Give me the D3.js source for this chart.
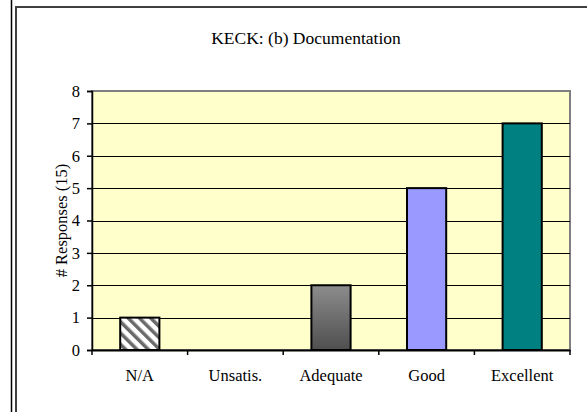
<!DOCTYPE html>
<html>
<head>
<meta charset="utf-8">
<script src="https://cdn.jsdelivr.net/npm/d3@7"></script>
<style>
  html, body { margin: 0; padding: 0; background: #fff; }
  svg { display: block; }
  svg text { font-family: "Liberation Serif", "Times New Roman", Times, serif !important; fill: #000; }
</style>
</head>
<body>
<svg id="chart" width="587" height="412"></svg>
<script>
const title = "KECK: (b) Documentation";
const yLabel = "# Responses (15)";
const categories = ["N/A", "Unsatis.", "Adequate", "Good", "Excellent"];
const values = [1, 0, 2, 5, 7];
const fills = ["url(#hatch)", "#cccccc", "url(#gradGray)", "#9999ff", "#008080"];
const yTicks = [0, 1, 2, 3, 4, 5, 6, 7, 8];

const svg = d3.select("#chart");
const W = 587, H = 412;
const plot = { left: 92, top: 91, right: 570, bottom: 350 };
const FONT = '"Liberation Serif", "Times New Roman", Times, serif';

const defs = svg.append("defs");
const pat = defs.append("pattern")
  .attr("id", "hatch").attr("patternUnits", "userSpaceOnUse")
  .attr("width", 8).attr("height", 8)
  .attr("patternTransform", "rotate(-45)");
pat.append("rect").attr("width", 8).attr("height", 8).attr("fill", "#ffffff");
pat.append("rect").attr("x", 0).attr("width", 3.5).attr("height", 8).attr("fill", "#6a6a6a");
const grad = defs.append("linearGradient").attr("id", "gradGray")
  .attr("x1", 0).attr("y1", 0).attr("x2", 0).attr("y2", 1);
grad.append("stop").attr("offset", "0%").attr("stop-color", "#8c8c8c");
grad.append("stop").attr("offset", "100%").attr("stop-color", "#4f4f4f");

// outer frame lines
svg.append("line").attr("x1", 11.5).attr("x2", 11.5).attr("y1", 0).attr("y2", H)
  .attr("stroke", "#000").attr("stroke-width", 1.5);
svg.append("path").attr("d", `M16,${H} L16,7 L${W},7`)
  .attr("fill", "none").attr("stroke", "#404040").attr("stroke-width", 2);

const x = d3.scaleBand().domain(categories).range([plot.left, plot.right]).paddingInner(0).paddingOuter(0);
const y = d3.scaleLinear().domain([0, 8]).range([plot.bottom, plot.top]);

// plot background
svg.append("rect").attr("x", plot.left).attr("y", plot.top)
  .attr("width", plot.right - plot.left).attr("height", plot.bottom - plot.top)
  .attr("fill", "#ffffcc").attr("stroke", "#808080").attr("stroke-width", 2);

// gridlines
svg.append("g").selectAll("line").data(yTicks.filter(d => d > 0 && d < 8)).join("line")
  .attr("x1", plot.left).attr("x2", plot.right)
  .attr("y1", d => Math.round(y(d)) + 0.5).attr("y2", d => Math.round(y(d)) + 0.5)
  .attr("stroke", "#000").attr("stroke-width", 1);

// bars
const bw = x.bandwidth() * 0.41;
svg.append("g").selectAll("rect").data(categories.map((c, i) => ({ c, v: values[i], f: fills[i] })).filter(d => d.v > 0))
  .join("rect")
  .attr("x", d => x(d.c) + x.bandwidth() / 2 - bw / 2)
  .attr("y", d => y(d.v))
  .attr("width", bw)
  .attr("height", d => y(0) - y(d.v))
  .attr("fill", d => d.f)
  .attr("stroke", "#000").attr("stroke-width", 2);

// y axis
const yAxis = svg.append("g").attr("transform", `translate(${plot.left},0)`)
  .call(d3.axisLeft(y).tickValues(yTicks).tickFormat(d3.format("d")).tickSize(5).tickPadding(7));
yAxis.attr("font-family", FONT).attr("font-size", 16.5);
yAxis.select(".domain").attr("stroke", "#000").attr("stroke-width", 1.5);
yAxis.selectAll(".tick line").attr("stroke", "#000").attr("stroke-width", 1.5);
yAxis.selectAll("text").attr("fill", "#000");

// x axis
const xAxis = svg.append("g").attr("transform", `translate(0,${plot.bottom})`)
  .call(d3.axisBottom(x).tickSize(0).tickPadding(19));
xAxis.attr("font-family", FONT).attr("font-size", 16.5);
xAxis.select(".domain").attr("stroke", "#000").attr("stroke-width", 2);
xAxis.selectAll("text").attr("fill", "#000");
// boundary ticks
const bounds = categories.map(c => x(c)).concat([plot.right]);
svg.append("g").selectAll("line").data(bounds).join("line")
  .attr("x1", d => d).attr("x2", d => d)
  .attr("y1", plot.bottom).attr("y2", plot.bottom + 5)
  .attr("stroke", "#000").attr("stroke-width", 1.5);

// title
svg.append("text").attr("x", 306).attr("y", 44).attr("text-anchor", "middle")
  .attr("font-family", FONT).attr("font-size", 17.5).text(title);

// y label
svg.append("text").attr("transform", `translate(67,${(plot.top + plot.bottom) / 2}) rotate(-90)`)
  .attr("text-anchor", "middle").attr("font-family", FONT).attr("font-size", 16.5).text(yLabel);
</script>
</body>
</html>
